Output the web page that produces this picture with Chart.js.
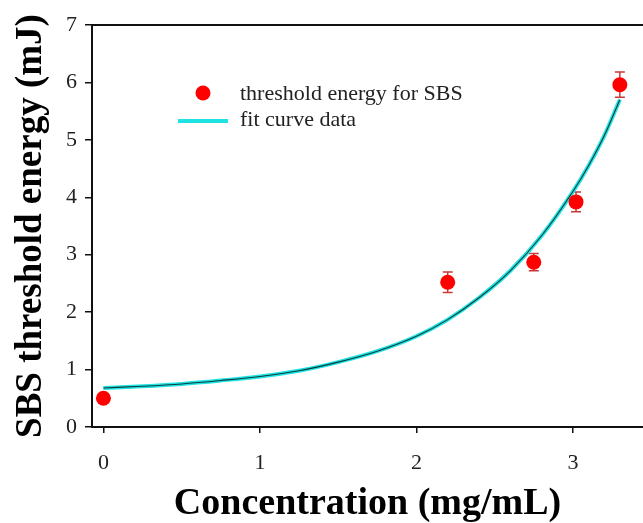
<!DOCTYPE html>
<html>
<head>
<meta charset="utf-8">
<script src="https://cdn.jsdelivr.net/npm/chart.js@4/dist/chart.umd.min.js"></script>
<style>
  html, body { margin: 0; padding: 0; background: #fff; overflow: hidden; }
  #wrap { width: 643px; height: 523px; position: relative; }
</style>
</head>
<body>
<div id="wrap"><canvas id="c" width="643" height="523"></canvas></div>
<script>
// Measured SBS threshold energy vs. concentration
const concentration   = [0, 2.2, 2.75, 3.02, 3.3];          // mg/mL
const thresholdEnergy = [0.5, 2.52, 2.87, 3.92, 5.96];      // mJ
const energyError     = [0.05, 0.18, 0.15, 0.17, 0.22];     // mJ

// Fitted curve samples
const fitX = [0, 0.25, 0.5, 0.75, 1.0, 1.25, 1.5, 1.75, 2.0, 2.2, 2.4, 2.6, 2.8, 3.0, 3.1, 3.2, 3.3];
const fitY = [0.68, 0.71, 0.75, 0.81, 0.88, 0.98, 1.13, 1.32, 1.58, 1.87, 2.25, 2.72, 3.33, 4.1, 4.55, 5.07, 5.7];

// Axis ticks
const xTicks = [0, 1, 2, 3];
const yTicks = [0, 1, 2, 3, 4, 5, 6, 7];

const seriesLabels = ['threshold energy for SBS', 'fit curve data'];

const serif = "'Liberation Serif', 'Times New Roman', serif";
const pointColor = '#ff0000';
const fitColor = '#1fe3e3';

const measured = concentration.map((x, i) => ({ x, y: thresholdEnergy[i] }));
const fitted = fitX.map((x, i) => ({ x, y: fitY[i] }));

// vertical error bars with caps, drawn under the markers
const errorBars = {
  id: 'errorBars',
  beforeDatasetsDraw(chart) {
    const { ctx, scales: { x, y } } = chart;
    ctx.save();
    ctx.strokeStyle = '#c83a3a';
    ctx.lineWidth = 1.5;
    concentration.forEach((cx, i) => {
      const px = x.getPixelForValue(cx);
      const top = y.getPixelForValue(thresholdEnergy[i] + energyError[i]);
      const bot = y.getPixelForValue(thresholdEnergy[i] - energyError[i]);
      ctx.beginPath();
      ctx.moveTo(px, top); ctx.lineTo(px, bot);
      ctx.moveTo(px - 5, top); ctx.lineTo(px + 5, top);
      ctx.moveTo(px - 5, bot); ctx.lineTo(px + 5, bot);
      ctx.stroke();
    });
    ctx.restore();
  }
};

// top edge of the plot frame
const topFrame = {
  id: 'topFrame',
  afterDraw(chart) {
    const { ctx, chartArea } = chart;
    ctx.save();
    ctx.strokeStyle = '#111';
    ctx.lineWidth = 2;
    ctx.beginPath();
    ctx.moveTo(chartArea.left - 1, chartArea.top);
    ctx.lineTo(chart.width, chartArea.top);
    ctx.stroke();
    ctx.restore();
  }
};

// legend placed inside the plot area
const insetLegend = {
  id: 'insetLegend',
  afterDraw(chart) {
    const { ctx, chartArea } = chart;
    const x0 = chartArea.left;
    const y0 = chartArea.top;
    ctx.save();
    ctx.font = '22px ' + serif;
    ctx.textBaseline = 'middle';
    ctx.textAlign = 'left';
    // marker entry
    ctx.beginPath();
    ctx.arc(x0 + 111, y0 + 68, 7.5, 0, Math.PI * 2);
    ctx.fillStyle = pointColor;
    ctx.fill();
    ctx.fillStyle = '#222';
    ctx.fillText(seriesLabels[0], x0 + 148, y0 + 69);
    // line entry
    ctx.strokeStyle = fitColor;
    ctx.lineWidth = 4;
    ctx.beginPath();
    ctx.moveTo(x0 + 86, y0 + 96);
    ctx.lineTo(x0 + 136, y0 + 96);
    ctx.stroke();
    ctx.fillText(seriesLabels[1], x0 + 148, y0 + 95);
    ctx.restore();
  }
};

new Chart(document.getElementById('c'), {
  type: 'scatter',
  data: {
    datasets: [
      {
        label: seriesLabels[0],
        data: measured,
        pointRadius: 7.5,
        pointHoverRadius: 7.5,
        backgroundColor: pointColor,
        borderColor: pointColor,
        borderWidth: 0,
        order: 1
      },
      {
        label: seriesLabels[1],
        data: fitted,
        showLine: true,
        borderColor: fitColor,
        borderWidth: 4,
        pointRadius: 0,
        cubicInterpolationMode: 'monotone',
        order: 3
      },
      {
        label: 'fit core',
        data: fitted,
        showLine: true,
        borderColor: '#0c3c3c',
        borderWidth: 1.1,
        pointRadius: 0,
        cubicInterpolationMode: 'monotone',
        order: 2
      }
    ]
  },
  options: {
    responsive: false,
    animation: false,
    devicePixelRatio: 1,
    layout: { autoPadding: false, padding: { top: 25, left: 0, right: 0, bottom: 0 } },
    plugins: { legend: { display: false }, tooltip: { enabled: false } },
    scales: {
      x: {
        type: 'linear',
        min: -0.073,
        max: 3.448,
        afterBuildTicks: s => { s.ticks = xTicks.map(v => ({ value: v })); },
        afterFit: s => { s.height = 96; s.paddingLeft = 0; s.paddingRight = 0; },
        border: { display: true, color: '#111', width: 2 },
        grid: { drawOnChartArea: false, tickLength: 6, color: '#111', lineWidth: 1.5 },
        ticks: { padding: 17, color: '#222', font: { family: serif, size: 22 } },
        title: {
          display: true,
          text: 'Concentration (mg/mL)',
          color: '#000',
          font: { family: serif, size: 38, weight: 'bold', lineHeight: 1 },
          padding: { top: 0, bottom: 0 }
        }
      },
      y: {
        type: 'linear',
        min: 0,
        max: 7,
        afterBuildTicks: s => { s.ticks = yTicks.map(v => ({ value: v })); },
        afterFit: s => { s.width = 92; s.paddingTop = 0; s.paddingBottom = 0; },
        border: { display: true, color: '#111', width: 2 },
        grid: { drawOnChartArea: false, tickLength: 7, color: '#111', lineWidth: 1.5 },
        ticks: { padding: 8, color: '#222', font: { family: serif, size: 22 } },
        title: {
          display: true,
          text: 'SBS threshold energy (mJ)',
          color: '#000',
          font: { family: serif, size: 37, weight: 'bold', lineHeight: 1 },
          padding: { top: 13, bottom: 0 }
        }
      }
    }
  },
  plugins: [errorBars, topFrame, insetLegend]
});
</script>
</body>
</html>
